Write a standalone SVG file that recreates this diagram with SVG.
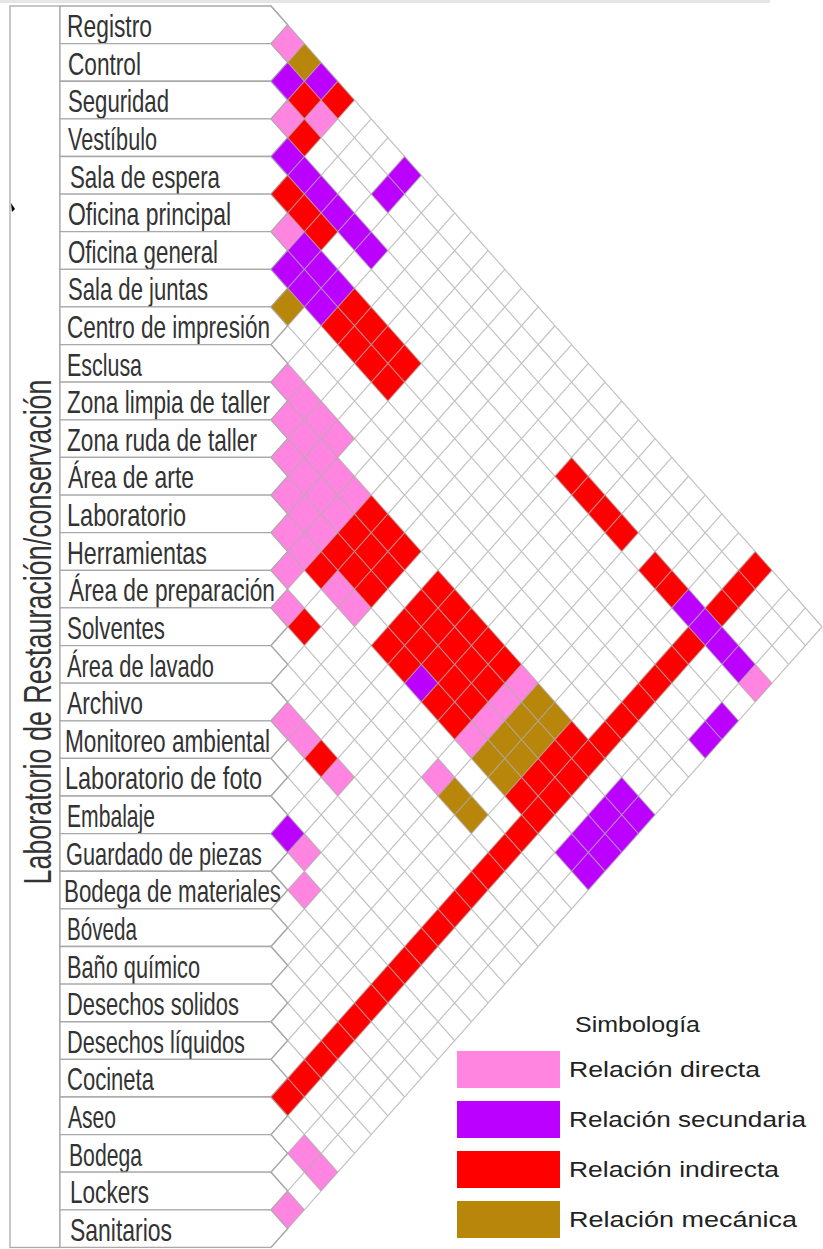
<svg xmlns="http://www.w3.org/2000/svg" xmlns:xlink="http://www.w3.org/1999/xlink" width="823" height="1249" viewBox="0 0 823 1249">
<style>
.bx{fill:#fff;stroke:#a9a9a9;stroke-width:1.3}
.lb{font-family:"Liberation Sans Narrow","Liberation Sans",sans-serif;font-size:32px;fill:#333}
.tt{font-family:"Liberation Sans Narrow","Liberation Sans",sans-serif;font-size:38px;fill:#333}
.lg{font-family:"Liberation Sans","DejaVu Sans",sans-serif;font-size:22px;fill:#222}
.pk{fill:#ff85e0}.pu{fill:#bb00ff}.rd{fill:#ff0000}.br{fill:#b8860b}
.grid{fill:none;stroke:#a8a8a8;stroke-opacity:0.7;stroke-width:1.2}
.frame{fill:none;stroke:#a9a9a9;stroke-width:1.3}
</style>
<defs>
<polygon id="d" points="-1,0 0,-1 1,0 0,1"/>
</defs>
<rect x="0" y="0" width="823" height="1249" fill="#fff"/>
<rect x="0" y="0" width="770" height="3" fill="#e6e6e6"/>
<g id="frame">
<rect class="frame" x="10" y="6" width="50" height="1241.46"/>
<polygon points="11,203 15,209 12,212" fill="#000"/>
<text class="tt" transform="translate(51,632) rotate(-90)" text-anchor="middle" textLength="505" lengthAdjust="spacingAndGlyphs">Laboratorio de Restauración/conservación</text>
</g>
<g id="nodes">
<g id="n00"><polygon class="bx" points="60,6 271,6 287.7,24.81 271,43.62 60,43.62"/><text class="lb" x="67" y="37" textLength="85" lengthAdjust="spacingAndGlyphs">Registro</text></g>
<g id="n01"><polygon class="bx" points="60,43.62 271,43.62 287.7,62.43 271,81.24 60,81.24"/><text class="lb" x="68" y="74.6" textLength="73" lengthAdjust="spacingAndGlyphs">Control</text></g>
<g id="n02"><polygon class="bx" points="60,81.24 271,81.24 287.7,100.05 271,118.86 60,118.86"/><text class="lb" x="68" y="112.2" textLength="101" lengthAdjust="spacingAndGlyphs">Seguridad</text></g>
<g id="n03"><polygon class="bx" points="60,118.86 271,118.86 287.7,137.67 271,156.48 60,156.48"/><text class="lb" x="68" y="149.9" textLength="89" lengthAdjust="spacingAndGlyphs">Vestíbulo</text></g>
<g id="n04"><polygon class="bx" points="60,156.48 271,156.48 287.7,175.29 271,194.1 60,194.1"/><text class="lb" x="70" y="187.5" textLength="150" lengthAdjust="spacingAndGlyphs">Sala de espera</text></g>
<g id="n05"><polygon class="bx" points="60,194.1 271,194.1 287.7,212.91 271,231.72 60,231.72"/><text class="lb" x="68" y="225.1" textLength="163" lengthAdjust="spacingAndGlyphs">Oficina principal</text></g>
<g id="n06"><polygon class="bx" points="60,231.72 271,231.72 287.7,250.53 271,269.34 60,269.34"/><text class="lb" x="68" y="262.7" textLength="150" lengthAdjust="spacingAndGlyphs">Oficina general</text></g>
<g id="n07"><polygon class="bx" points="60,269.34 271,269.34 287.7,288.15 271,306.96 60,306.96"/><text class="lb" x="68" y="300.3" textLength="140" lengthAdjust="spacingAndGlyphs">Sala de juntas</text></g>
<g id="n08"><polygon class="bx" points="60,306.96 271,306.96 287.7,325.77 271,344.58 60,344.58"/><text class="lb" x="67" y="338" textLength="203" lengthAdjust="spacingAndGlyphs">Centro de impresión</text></g>
<g id="n09"><polygon class="bx" points="60,344.58 271,344.58 287.7,363.39 271,382.2 60,382.2"/><text class="lb" x="67" y="375.6" textLength="75" lengthAdjust="spacingAndGlyphs">Esclusa</text></g>
<g id="n10"><polygon class="bx" points="60,382.2 271,382.2 287.7,401.01 271,419.82 60,419.82"/><text class="lb" x="67" y="413.2" textLength="203" lengthAdjust="spacingAndGlyphs">Zona limpia de taller</text></g>
<g id="n11"><polygon class="bx" points="60,419.82 271,419.82 287.7,438.63 271,457.44 60,457.44"/><text class="lb" x="67" y="450.8" textLength="190" lengthAdjust="spacingAndGlyphs">Zona ruda de taller</text></g>
<g id="n12"><polygon class="bx" points="60,457.44 271,457.44 287.7,476.25 271,495.06 60,495.06"/><text class="lb" x="68" y="488.4" textLength="126" lengthAdjust="spacingAndGlyphs">Área de arte</text></g>
<g id="n13"><polygon class="bx" points="60,495.06 271,495.06 287.7,513.87 271,532.68 60,532.68"/><text class="lb" x="67" y="526.1" textLength="119" lengthAdjust="spacingAndGlyphs">Laboratorio</text></g>
<g id="n14"><polygon class="bx" points="60,532.68 271,532.68 287.7,551.49 271,570.3 60,570.3"/><text class="lb" x="67" y="563.7" textLength="140" lengthAdjust="spacingAndGlyphs">Herramientas</text></g>
<g id="n15"><polygon class="bx" points="60,570.3 271,570.3 287.7,589.11 271,607.92 60,607.92"/><text class="lb" x="69" y="601.3" textLength="206" lengthAdjust="spacingAndGlyphs">Área de preparación</text></g>
<g id="n16"><polygon class="bx" points="60,607.92 271,607.92 287.7,626.73 271,645.54 60,645.54"/><text class="lb" x="67" y="638.9" textLength="98" lengthAdjust="spacingAndGlyphs">Solventes</text></g>
<g id="n17"><polygon class="bx" points="60,645.54 271,645.54 287.7,664.35 271,683.16 60,683.16"/><text class="lb" x="67" y="676.5" textLength="147" lengthAdjust="spacingAndGlyphs">Área de lavado</text></g>
<g id="n18"><polygon class="bx" points="60,683.16 271,683.16 287.7,701.97 271,720.78 60,720.78"/><text class="lb" x="67" y="714.2" textLength="76" lengthAdjust="spacingAndGlyphs">Archivo</text></g>
<g id="n19"><polygon class="bx" points="60,720.78 271,720.78 287.7,739.59 271,758.4 60,758.4"/><text class="lb" x="65" y="751.8" textLength="205" lengthAdjust="spacingAndGlyphs">Monitoreo ambiental</text></g>
<g id="n20"><polygon class="bx" points="60,758.4 271,758.4 287.7,777.21 271,796.02 60,796.02"/><text class="lb" x="65" y="789.4" textLength="197" lengthAdjust="spacingAndGlyphs">Laboratorio de foto</text></g>
<g id="n21"><polygon class="bx" points="60,796.02 271,796.02 287.7,814.83 271,833.64 60,833.64"/><text class="lb" x="67" y="827" textLength="88" lengthAdjust="spacingAndGlyphs">Embalaje</text></g>
<g id="n22"><polygon class="bx" points="60,833.64 271,833.64 287.7,852.45 271,871.26 60,871.26"/><text class="lb" x="66" y="864.6" textLength="196" lengthAdjust="spacingAndGlyphs">Guardado de piezas</text></g>
<g id="n23"><polygon class="bx" points="60,871.26 271,871.26 287.7,890.07 271,908.88 60,908.88"/><text class="lb" x="64" y="902.3" textLength="217" lengthAdjust="spacingAndGlyphs">Bodega de materiales</text></g>
<g id="n24"><polygon class="bx" points="60,908.88 271,908.88 287.7,927.69 271,946.5 60,946.5"/><text class="lb" x="67" y="939.9" textLength="70" lengthAdjust="spacingAndGlyphs">Bóveda</text></g>
<g id="n25"><polygon class="bx" points="60,946.5 271,946.5 287.7,965.31 271,984.12 60,984.12"/><text class="lb" x="67" y="977.5" textLength="133" lengthAdjust="spacingAndGlyphs">Baño químico</text></g>
<g id="n26"><polygon class="bx" points="60,984.12 271,984.12 287.7,1002.93 271,1021.74 60,1021.74"/><text class="lb" x="67" y="1015.1" textLength="172" lengthAdjust="spacingAndGlyphs">Desechos solidos</text></g>
<g id="n27"><polygon class="bx" points="60,1021.74 271,1021.74 287.7,1040.55 271,1059.36 60,1059.36"/><text class="lb" x="67" y="1052.7" textLength="178" lengthAdjust="spacingAndGlyphs">Desechos líquidos</text></g>
<g id="n28"><polygon class="bx" points="60,1059.36 271,1059.36 287.7,1078.17 271,1096.98 60,1096.98"/><text class="lb" x="67" y="1090.4" textLength="87" lengthAdjust="spacingAndGlyphs">Cocineta</text></g>
<g id="n29"><polygon class="bx" points="60,1096.98 271,1096.98 287.7,1115.79 271,1134.6 60,1134.6"/><text class="lb" x="68" y="1128" textLength="48" lengthAdjust="spacingAndGlyphs">Aseo</text></g>
<g id="n30"><polygon class="bx" points="60,1134.6 271,1134.6 287.7,1153.41 271,1172.22 60,1172.22"/><text class="lb" x="69" y="1165.6" textLength="73" lengthAdjust="spacingAndGlyphs">Bodega</text></g>
<g id="n31"><polygon class="bx" points="60,1172.22 271,1172.22 287.7,1191.03 271,1209.84 60,1209.84"/><text class="lb" x="70" y="1203.2" textLength="79" lengthAdjust="spacingAndGlyphs">Lockers</text></g>
<g id="n32"><polygon class="bx" points="60,1209.84 271,1209.84 287.7,1228.65 271,1247.46 60,1247.46"/><text class="lb" x="70" y="1240.8" textLength="102" lengthAdjust="spacingAndGlyphs">Sanitarios</text></g>
</g>
<g id="matrix" transform="translate(271,6) scale(16.7,18.81)">
<g class="pk">
<use href="#d" x="1" y="2"/><use href="#d" x="1" y="6"/><use href="#d" x="3" y="6"/><use href="#d" x="1" y="12"/>
<use href="#d" x="1" y="20"/><use href="#d" x="2" y="21"/><use href="#d" x="3" y="22"/><use href="#d" x="4" y="23"/>
<use href="#d" x="1" y="22"/><use href="#d" x="2" y="23"/><use href="#d" x="3" y="24"/><use href="#d" x="4" y="25"/><use href="#d" x="5" y="26"/>
<use href="#d" x="1" y="24"/><use href="#d" x="2" y="25"/><use href="#d" x="3" y="26"/><use href="#d" x="4" y="27"/>
<use href="#d" x="1" y="26"/><use href="#d" x="2" y="27"/><use href="#d" x="3" y="28"/>
<use href="#d" x="1" y="28"/><use href="#d" x="2" y="29"/><use href="#d" x="4" y="31"/><use href="#d" x="5" y="32"/>
<use href="#d" x="1" y="30"/><use href="#d" x="1" y="32"/>
<use href="#d" x="15" y="36"/><use href="#d" x="14" y="37"/><use href="#d" x="13" y="38"/><use href="#d" x="12" y="39"/>
<use href="#d" x="10" y="41"/>
<use href="#d" x="1" y="38"/><use href="#d" x="2" y="39"/><use href="#d" x="4" y="41"/>
<use href="#d" x="2" y="45"/><use href="#d" x="2" y="47"/>
<use href="#d" x="29" y="36"/>
<use href="#d" x="2" y="61"/><use href="#d" x="3" y="62"/><use href="#d" x="1" y="64"/>
</g>
<g class="pu">
<use href="#d" x="1" y="4"/><use href="#d" x="3" y="4"/>
<use href="#d" x="1" y="8"/><use href="#d" x="2" y="9"/><use href="#d" x="3" y="10"/><use href="#d" x="4" y="11"/><use href="#d" x="5" y="12"/><use href="#d" x="6" y="13"/>
<use href="#d" x="8" y="9"/><use href="#d" x="7" y="10"/>
<use href="#d" x="2" y="13"/><use href="#d" x="3" y="14"/><use href="#d" x="4" y="15"/>
<use href="#d" x="1" y="14"/><use href="#d" x="2" y="15"/><use href="#d" x="3" y="16"/>
<use href="#d" x="9" y="36"/>
<use href="#d" x="25" y="32"/><use href="#d" x="26" y="33"/><use href="#d" x="27" y="34"/><use href="#d" x="28" y="35"/>
<use href="#d" x="27" y="38"/><use href="#d" x="26" y="39"/>
<use href="#d" x="21" y="42"/><use href="#d" x="22" y="43"/><use href="#d" x="20" y="43"/><use href="#d" x="21" y="44"/>
<use href="#d" x="19" y="44"/><use href="#d" x="20" y="45"/><use href="#d" x="18" y="45"/><use href="#d" x="19" y="46"/>
<use href="#d" x="1" y="44"/>
</g>
<g class="rd">
<use href="#d" x="2" y="5"/><use href="#d" x="4" y="5"/><use href="#d" x="2" y="7"/>
<use href="#d" x="1" y="10"/><use href="#d" x="2" y="11"/><use href="#d" x="3" y="12"/>
<use href="#d" x="5" y="16"/><use href="#d" x="6" y="17"/><use href="#d" x="7" y="18"/><use href="#d" x="8" y="19"/>
<use href="#d" x="4" y="17"/><use href="#d" x="5" y="18"/><use href="#d" x="6" y="19"/><use href="#d" x="7" y="20"/>
<use href="#d" x="6" y="27"/><use href="#d" x="7" y="28"/><use href="#d" x="8" y="29"/>
<use href="#d" x="5" y="28"/><use href="#d" x="6" y="29"/><use href="#d" x="7" y="30"/>
<use href="#d" x="4" y="29"/><use href="#d" x="5" y="30"/><use href="#d" x="6" y="31"/>
<use href="#d" x="3" y="30"/><use href="#d" x="2" y="33"/><use href="#d" x="3" y="40"/>
<use href="#d" x="10" y="31"/><use href="#d" x="11" y="32"/><use href="#d" x="12" y="33"/><use href="#d" x="13" y="34"/><use href="#d" x="14" y="35"/>
<use href="#d" x="9" y="32"/><use href="#d" x="10" y="33"/><use href="#d" x="11" y="34"/><use href="#d" x="12" y="35"/><use href="#d" x="13" y="36"/>
<use href="#d" x="8" y="33"/><use href="#d" x="9" y="34"/><use href="#d" x="10" y="35"/><use href="#d" x="11" y="36"/><use href="#d" x="12" y="37"/>
<use href="#d" x="7" y="34"/><use href="#d" x="8" y="35"/><use href="#d" x="10" y="37"/><use href="#d" x="11" y="38"/>
<use href="#d" x="18" y="39"/><use href="#d" x="17" y="40"/><use href="#d" x="16" y="41"/><use href="#d" x="15" y="42"/>
<use href="#d" x="18" y="25"/><use href="#d" x="19" y="26"/><use href="#d" x="20" y="27"/><use href="#d" x="21" y="28"/>
<use href="#d" x="23" y="30"/><use href="#d" x="24" y="31"/>
<use href="#d" x="29" y="30"/><use href="#d" x="28" y="31"/><use href="#d" x="27" y="32"/>
<use href="#d" x="25" y="34"/><use href="#d" x="24" y="35"/><use href="#d" x="23" y="36"/><use href="#d" x="22" y="37"/><use href="#d" x="21" y="38"/>
<use href="#d" x="20" y="39"/><use href="#d" x="19" y="40"/><use href="#d" x="18" y="41"/><use href="#d" x="17" y="42"/><use href="#d" x="16" y="43"/>
<use href="#d" x="15" y="44"/><use href="#d" x="14" y="45"/><use href="#d" x="13" y="46"/><use href="#d" x="12" y="47"/><use href="#d" x="11" y="48"/>
<use href="#d" x="10" y="49"/><use href="#d" x="9" y="50"/><use href="#d" x="8" y="51"/><use href="#d" x="7" y="52"/><use href="#d" x="6" y="53"/>
<use href="#d" x="5" y="54"/><use href="#d" x="4" y="55"/><use href="#d" x="3" y="56"/><use href="#d" x="2" y="57"/><use href="#d" x="1" y="58"/>
</g>
<g class="br">
<use href="#d" x="2" y="3"/><use href="#d" x="1" y="16"/>
<use href="#d" x="16" y="37"/><use href="#d" x="17" y="38"/><use href="#d" x="15" y="38"/><use href="#d" x="16" y="39"/>
<use href="#d" x="14" y="39"/><use href="#d" x="15" y="40"/><use href="#d" x="13" y="40"/><use href="#d" x="14" y="41"/>
<use href="#d" x="11" y="42"/><use href="#d" x="12" y="43"/>
</g>
</g>
<g id="connectors" transform="translate(271,6) scale(16.7,18.81)">
<path class="grid" vector-effect="non-scaling-stroke" d="M0 0L33 33M0 2L32 34M0 4L31 35M0 6L30 36M0 8L29 37M0 10L28 38M0 12L27 39M0 14L26 40M0 16L25 41M0 18L24 42M0 20L23 43M0 22L22 44M0 24L21 45M0 26L20 46M0 28L19 47M0 30L18 48M0 32L17 49M0 34L16 50M0 36L15 51M0 38L14 52M0 40L13 53M0 42L12 54M0 44L11 55M0 46L10 56M0 48L9 57M0 50L8 58M0 52L7 59M0 54L6 60M0 56L5 61M0 58L4 62M0 60L3 63M0 62L2 64M0 64L1 65M0 2L1 1M0 4L2 2M0 6L3 3M0 8L4 4M0 10L5 5M0 12L6 6M0 14L7 7M0 16L8 8M0 18L9 9M0 20L10 10M0 22L11 11M0 24L12 12M0 26L13 13M0 28L14 14M0 30L15 15M0 32L16 16M0 34L17 17M0 36L18 18M0 38L19 19M0 40L20 20M0 42L21 21M0 44L22 22M0 46L23 23M0 48L24 24M0 50L25 25M0 52L26 26M0 54L27 27M0 56L28 28M0 58L29 29M0 60L30 30M0 62L31 31M0 64L32 32M0 66L33 33"/>
</g>
<g id="legend">
<text class="lg" x="575" y="1032" textLength="125" lengthAdjust="spacingAndGlyphs">Simbología</text>
<rect class="pk" x="457" y="1051" width="103" height="37"/>
<rect class="pu" x="457" y="1101" width="103" height="37"/>
<rect class="rd" x="457" y="1151" width="103" height="37"/>
<rect class="br" x="457" y="1201" width="103" height="37"/>
<text class="lg" x="569" y="1077" textLength="191" lengthAdjust="spacingAndGlyphs">Relación directa</text>
<text class="lg" x="569" y="1127" textLength="237" lengthAdjust="spacingAndGlyphs">Relación secundaria</text>
<text class="lg" x="569" y="1177" textLength="210" lengthAdjust="spacingAndGlyphs">Relación indirecta</text>
<text class="lg" x="569" y="1227" textLength="228" lengthAdjust="spacingAndGlyphs">Relación mecánica</text>
</g>
</svg>
